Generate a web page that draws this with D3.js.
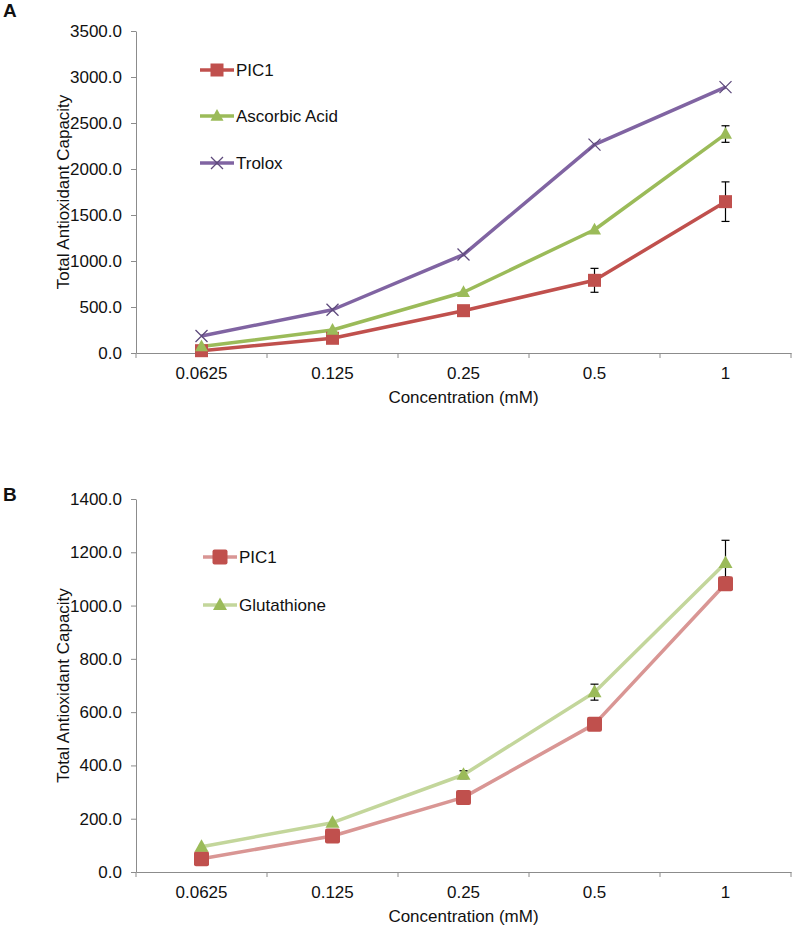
<!DOCTYPE html>
<html><head><meta charset="utf-8">
<script src="https://cdn.jsdelivr.net/npm/d3@7"></script>
<style>body{margin:0;background:#fff}svg{display:block}text{font-family:"Liberation Sans",Arial,sans-serif}</style>
</head><body>
<script>
const categories = ["0.0625","0.125","0.25","0.5","1"];
// Panel A
const picA = [25, 160, 460, 790, 1645];
const picAErr = [0, 0, 0, 130, 215];
const ascorbic = [70, 250, 660, 1340, 2380];
const ascorbicErr = [0, 0, 0, 0, 90];
const trolox = [185, 470, 1070, 2265, 2890];
const troloxErr = [0, 0, 0, 0, 0];
const yTicksA = [0, 500, 1000, 1500, 2000, 2500, 3000, 3500];
// Panel B
const picB = [50, 135, 280, 555, 1082];
const picBErr = [0, 0, 0, 0, 25];
const glutathione = [95, 185, 365, 675, 1160];
const glutathioneErr = [0, 0, 15, 30, 85];
const yTicksB = [0, 200, 400, 600, 800, 1000, 1200, 1400];

const W = 797, H = 926;
const svg = d3.select("body").append("svg").attr("width", W).attr("height", H);
const axisColor = "#8c8c8c";
const FS = 17;

function panel(cfg) {
  const g = svg.append("g");
  const x = d3.scaleBand().domain(categories).range([cfg.left, cfg.right]).padding(0);
  const y = d3.scaleLinear().domain([0, cfg.ymax]).range([cfg.bottom, cfg.top]);
  const cx = d => x(d) + x.bandwidth() / 2;

  // y axis
  const ya = g.append("g").attr("transform", `translate(${cfg.left},0)`)
    .call(d3.axisLeft(y).tickValues(cfg.yTicks).tickFormat(d3.format(".1f")).tickSize(5).tickSizeOuter(0));
  ya.select(".domain").attr("stroke", axisColor);
  ya.selectAll(".tick line").attr("stroke", axisColor);
  ya.selectAll(".tick text").attr("font-size", FS).attr("fill", "#111").attr("x", -14)
    .attr("font-family", '"Liberation Sans",Arial,sans-serif');

  // x axis
  const xa = g.append("g").attr("transform", `translate(0,${cfg.bottom})`)
    .call(d3.axisBottom(x).tickSize(0).tickPadding(20));
  xa.select(".domain").attr("stroke", axisColor);
  xa.selectAll(".tick text").attr("font-size", FS).attr("fill", "#111").attr("dy", "0.32em").attr("y", 21)
    .attr("font-family", '"Liberation Sans",Arial,sans-serif');
  const bounds = categories.map(c => x(c)).concat([cfg.right]);
  g.selectAll(".xtick").data(bounds).enter().append("line")
    .attr("x1", d => d).attr("x2", d => d).attr("y1", cfg.bottom).attr("y2", cfg.bottom + 5)
    .attr("stroke", axisColor);

  // titles
  g.append("text").attr("x", (cfg.left + cfg.right) / 2).attr("y", cfg.bottom + 44).attr("dy", "0.35em")
    .attr("text-anchor", "middle").attr("font-size", FS).attr("fill", "#111").text("Concentration (mM)");
  g.append("text").attr("transform", `translate(63,${(cfg.top + cfg.bottom) / 2}) rotate(-90)`)
    .attr("text-anchor", "middle").attr("dy", "0.35em").attr("font-size", FS).attr("fill", "#111")
    .text("Total Antioxidant Capacity");
  g.append("text").attr("x", 3).attr("y", cfg.labelY).attr("font-size", 19).attr("font-weight", "bold")
    .attr("fill", "#111").text(cfg.label);

  // series
  const line = d3.line().x((d, i) => cx(categories[i])).y(d => y(d));
  cfg.series.forEach(s => {
    g.append("path").datum(s.values).attr("d", line).attr("fill", "none")
      .attr("stroke", s.lineColor).attr("stroke-width", 3.5).attr("stroke-linejoin", "round");
  });
  cfg.series.forEach(s => {
    const eb = g.append("g");
    s.values.forEach((v, i) => {
      const e = s.err[i];
      if (!e) return;
      const px = cx(categories[i]);
      eb.append("line").attr("x1", px).attr("x2", px).attr("y1", y(v - e)).attr("y2", y(v + e)).attr("stroke", "#000").attr("stroke-width", 1.2);
      [v - e, v + e].forEach(t => eb.append("line").attr("x1", px - 4).attr("x2", px + 4).attr("y1", y(t)).attr("y2", y(t)).attr("stroke", "#000").attr("stroke-width", 1.2));
    });
  });
  cfg.series.forEach(s => {
    s.values.forEach((v, i) => marker(g, s.marker, cx(categories[i]), y(v), s.markerColor, s.size));
  });

  // legend
  cfg.series.forEach((s, k) => {
    const ly = cfg.legendY[k];
    g.append("line").attr("x1", cfg.legendX).attr("x2", cfg.legendX + 34).attr("y1", ly).attr("y2", ly)
      .attr("stroke", s.lineColor).attr("stroke-width", 3.5);
    marker(g, s.marker, cfg.legendX + 17, ly, s.markerColor, s.size);
    g.append("text").attr("x", cfg.legendX + 36).attr("y", ly).attr("dy", "0.35em").attr("font-size", FS)
      .attr("fill", "#111").text(s.name);
  });
}

function marker(g, type, x, y, color, size) {
  if (type === "square") {
    g.append("rect").attr("x", x - size / 2).attr("y", y - size / 2).attr("width", size).attr("height", size)
      .attr("rx", size > 13 ? 2 : 0).attr("fill", color);
  } else if (type === "triangle") {
    const h = size * 0.9;
    g.append("path").attr("d", `M${x},${y - h * 0.6}L${x + size / 2},${y + h * 0.4}L${x - size / 2},${y + h * 0.4}Z`).attr("fill", color);
  } else if (type === "x") {
    const r = size / 2;
    g.append("path").attr("d", `M${x - r},${y - r}L${x + r},${y + r}M${x - r},${y + r}L${x + r},${y - r}`)
      .attr("stroke", color).attr("stroke-width", 1.3).attr("fill", "none");
  }
}

panel({
  left: 136, right: 791, top: 31, bottom: 353, ymax: 3500, yTicks: yTicksA, label: "A", labelY: 17,
  legendX: 200, legendY: [70, 116, 163],
  series: [
    {name: "PIC1", values: picA, err: picAErr, lineColor: "#C0504D", markerColor: "#C0504D", marker: "square", size: 13},
    {name: "Ascorbic Acid", values: ascorbic, err: ascorbicErr, lineColor: "#9BBB59", markerColor: "#9BBB59", marker: "triangle", size: 13},
    {name: "Trolox", values: trolox, err: troloxErr, lineColor: "#8064A2", markerColor: "#5E4A7C", marker: "x", size: 12}
  ]
});
panel({
  left: 136, right: 791, top: 499, bottom: 872, ymax: 1400, yTicks: yTicksB, label: "B", labelY: 501,
  legendX: 203, legendY: [557, 605],
  series: [
    {name: "PIC1", values: picB, err: picBErr, lineColor: "#D99694", markerColor: "#C0504D", marker: "square", size: 15},
    {name: "Glutathione", values: glutathione, err: glutathioneErr, lineColor: "#C3D69B", markerColor: "#9BBB59", marker: "triangle", size: 14}
  ]
});
</script>
</body></html>
